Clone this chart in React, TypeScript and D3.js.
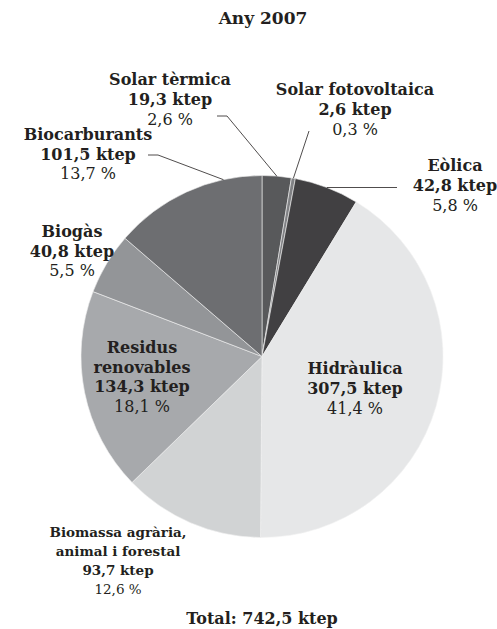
import React from "react";
import * as d3 from "d3";

const categories = [
  "Solar tèrmica",
  "Solar fotovoltaica",
  "Eòlica",
  "Hidràulica",
  "Biomassa agrària, animal i forestal",
  "Residus renovables",
  "Biogàs",
  "Biocarburants",
];
const values = [19.3, 2.6, 42.8, 307.5, 93.7, 134.3, 40.8, 101.5];
const percents = ["2,6 %", "0,3 %", "5,8 %", "41,4 %", "12,6 %", "18,1 %", "5,5 %", "13,7 %"];
const valueLabels = ["19,3 ktep", "2,6 ktep", "42,8 ktep", "307,5 ktep", "93,7 ktep", "134,3 ktep", "40,8 ktep", "101,5 ktep"];
const nameLines = [
  ["Solar tèrmica"],
  ["Solar fotovoltaica"],
  ["Eòlica"],
  ["Hidràulica"],
  ["Biomassa agrària,", "animal i forestal"],
  ["Residus", "renovables"],
  ["Biogàs"],
  ["Biocarburants"],
];
const title = "Any 2007";
const totalLabel = "Total: 742,5 ktep";

const colors = ["#58595b", "#808184", "#414042", "#e6e7e8", "#d1d3d4", "#a7a9ac", "#939598", "#6d6e71"];

// label layout: x center, first baseline, font size, line height
const labelLayout = [
  { x: 170, y: 85, fs: 16, lh: 20 },
  { x: 355, y: 95, fs: 16, lh: 20 },
  { x: 455, y: 171, fs: 16, lh: 20 },
  { x: 355, y: 374, fs: 16, lh: 20 },
  { x: 118, y: 537, fs: 13.5, lh: 19 },
  { x: 142, y: 353, fs: 16, lh: 19.5 },
  { x: 72, y: 237, fs: 16, lh: 19.5 },
  { x: 88, y: 140, fs: 16, lh: 19.5 },
];

const cx = 262;
const cy = 356.5;
const R = 181;

export default function App() {
  const pie = d3.pie<number>().sort(null).value((d) => d).startAngle(0).endAngle(2 * Math.PI);
  const arcs = pie(values);
  const arc = d3.arc<d3.PieArcDatum<number>>().innerRadius(0).outerRadius(R);
  const edge = (a: number) => [cx + R * Math.sin(a), cy - R * Math.cos(a)];
  const ang = (i: number, f: number) => arcs[i].startAngle + f * (arcs[i].endAngle - arcs[i].startAngle);

  const pST = edge(ang(0, 0.5));
  const pSF = edge(ang(1, 0.5));
  const pE = edge(ang(2, 0.5));
  const pB = edge(ang(7, 0.75));

  const font = "'DejaVu Serif', serif";
  const textColor = "#231f20";

  return (
    <div style={{ position: "absolute", left: 0, top: 0 }}>
      <svg width={497} height={629} style={{ display: "block", background: "#fff" }}>
        <text x={263} y={24} textAnchor="middle" fontFamily={font} fontWeight="bold" fontSize={17} fill={textColor}>
          {title}
        </text>
        <g transform={`translate(${cx},${cy})`}>
          {arcs.map((a, i) => (
            <path key={categories[i]} d={arc(a) || ""} fill={colors[i]} stroke="#f2f2f2" strokeWidth={0.6} />
          ))}
        </g>
        <g stroke="#231f20" strokeWidth={0.8} fill="none">
          <polyline points={`217,116 227,116 ${pST[0]},${pST[1]}`} />
          <polyline points={`309,131 ${pSF[0]},${pSF[1]}`} />
          <polyline points={`${pE[0]},${pE[1]} 397,${pE[1]}`} />
          <polyline points={`148,155 158,155 ${pB[0]},${pB[1]}`} />
        </g>
        {labelLayout.map((l, i) => {
          const lines = nameLines[i];
          return (
            <text key={i} textAnchor="middle" fontFamily={font} fontSize={l.fs} fill={textColor}>
              {lines.map((t, j) => (
                <tspan key={j} x={l.x} y={l.y + j * l.lh} fontWeight="bold">
                  {t}
                </tspan>
              ))}
              <tspan x={l.x} y={l.y + lines.length * l.lh} fontWeight="bold">
                {valueLabels[i]}
              </tspan>
              <tspan x={l.x} y={l.y + (lines.length + 1) * l.lh}>
                {percents[i]}
              </tspan>
            </text>
          );
        })}
        <text x={262} y={624} textAnchor="middle" fontFamily={font} fontWeight="bold" fontSize={16} fill={textColor}>
          {totalLabel}
        </text>
      </svg>
    </div>
  );
}
